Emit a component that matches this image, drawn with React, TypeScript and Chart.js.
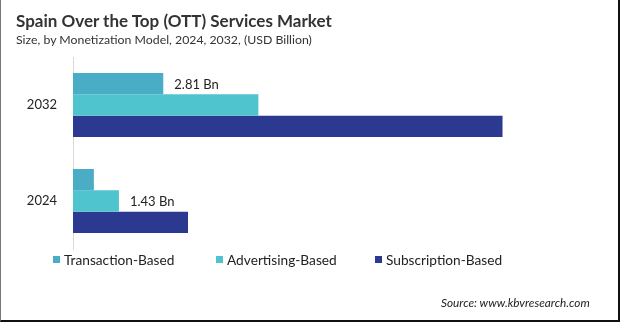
import React, { useEffect, useRef } from "react";
import { Chart, registerables } from "chart.js";

Chart.register(...registerables);

const categories = ["2032", "2024"];
const seriesNames = ["Transaction-Based", "Advertising-Based", "Subscription-Based"];
const transactionValues = [2.81, 0.65];
const advertisingValues = [5.77, 1.43];
const subscriptionValues = [13.37, 3.58];
const seriesColors = ["#4BACC6", "#4FC4CF", "#2B3990"];
// label shown for [datasetIndex, categoryIndex]
const valueLabels: [number, number, string][] = [
  [0, 0, "2.81 Bn"],
  [1, 1, "1.43 Bn"],
];

const FONT = "Lato, 'Noto Sans', sans-serif";

export default function App() {
  const ref = useRef<HTMLCanvasElement | null>(null);

  useEffect(() => {
    document.body.style.margin = "0";
    const labelPlugin = {
      id: "valueLabels",
      afterDatasetsDraw(chart: any) {
        const ctx = chart.ctx;
        ctx.save();
        ctx.font = `13px ${FONT}`;
        ctx.fillStyle = "#222";
        ctx.textAlign = "left";
        ctx.textBaseline = "middle";
        for (const [di, ci, text] of valueLabels) {
          const el = chart.getDatasetMeta(di).data[ci];
          if (el) ctx.fillText(text, el.x + 11, el.y + 1);
        }
        ctx.restore();
      },
    };
    const chart = new Chart(ref.current!, {
      type: "bar",
      data: {
        labels: categories,
        datasets: [
          { label: seriesNames[0], data: transactionValues, backgroundColor: seriesColors[0] },
          { label: seriesNames[1], data: advertisingValues, backgroundColor: seriesColors[1] },
          { label: seriesNames[2], data: subscriptionValues, backgroundColor: seriesColors[2] },
        ],
      },
      options: {
        indexAxis: "y",
        animation: false,
        responsive: false,
        maintainAspectRatio: false,
        datasets: { bar: { categoryPercentage: 0.667, barPercentage: 1 } },
        layout: { padding: { top: 57, bottom: 73, left: 0, right: 33 } },
        plugins: { legend: { display: false }, tooltip: { enabled: false }, title: { display: false } },
        scales: {
          x: { display: false, min: 0, max: 16 },
          y: {
            grid: { display: false, drawTicks: false },
            border: { display: true, color: "#d9d9d9", width: 1 },
            ticks: { color: "#222", font: { family: FONT, size: 13 }, padding: 16 },
            afterFit(scale: any) {
              scale.width = 73;
            },
          },
        },
      },
      plugins: [labelPlugin],
    });
    return () => chart.destroy();
  }, []);

  return (
    <div
      style={{
        position: "fixed",
        left: 0,
        top: 0,
        width: 620,
        height: 322,
        background: "#fff",
        fontFamily: FONT,
        color: "#222",
        boxSizing: "border-box",
        overflow: "hidden",
      }}
    >
      <canvas ref={ref} width={620} height={322} style={{ position: "absolute", left: 0, top: 0 }} />
      <div style={{ position: "absolute", left: 16, top: 10, fontSize: 17, fontWeight: 700, color: "#333", whiteSpace: "nowrap" }}>
        Spain Over the Top (OTT) Services Market
      </div>
      <div style={{ position: "absolute", left: 16, top: 32, fontSize: 12.3, color: "#333", whiteSpace: "nowrap" }}>
        Size, by Monetization Model, 2024, 2032, (USD Billion)
      </div>
      {seriesNames.map((name, i) => (
        <div
          key={name}
          style={{
            position: "absolute",
            left: [53, 216, 375][i],
            top: 251,
            display: "flex",
            alignItems: "center",
            fontSize: 13.7,
            whiteSpace: "nowrap",
          }}
        >
          <span style={{ display: "inline-block", width: 7, height: 7, background: seriesColors[i], marginRight: 4 }} />
          {name}
        </div>
      ))}
      <div style={{ position: "absolute", left: 441, top: 295, fontSize: 11.8, fontStyle: "italic", whiteSpace: "nowrap" }}>
        Source: www.kbvresearch.com
      </div>
      <div
        style={{
          position: "absolute",
          inset: 0,
          borderLeft: "1px solid #777",
          borderRight: "2px solid #111",
          borderBottom: "2px solid #111",
          boxSizing: "border-box",
          pointerEvents: "none",
        }}
      />
    </div>
  );
}
